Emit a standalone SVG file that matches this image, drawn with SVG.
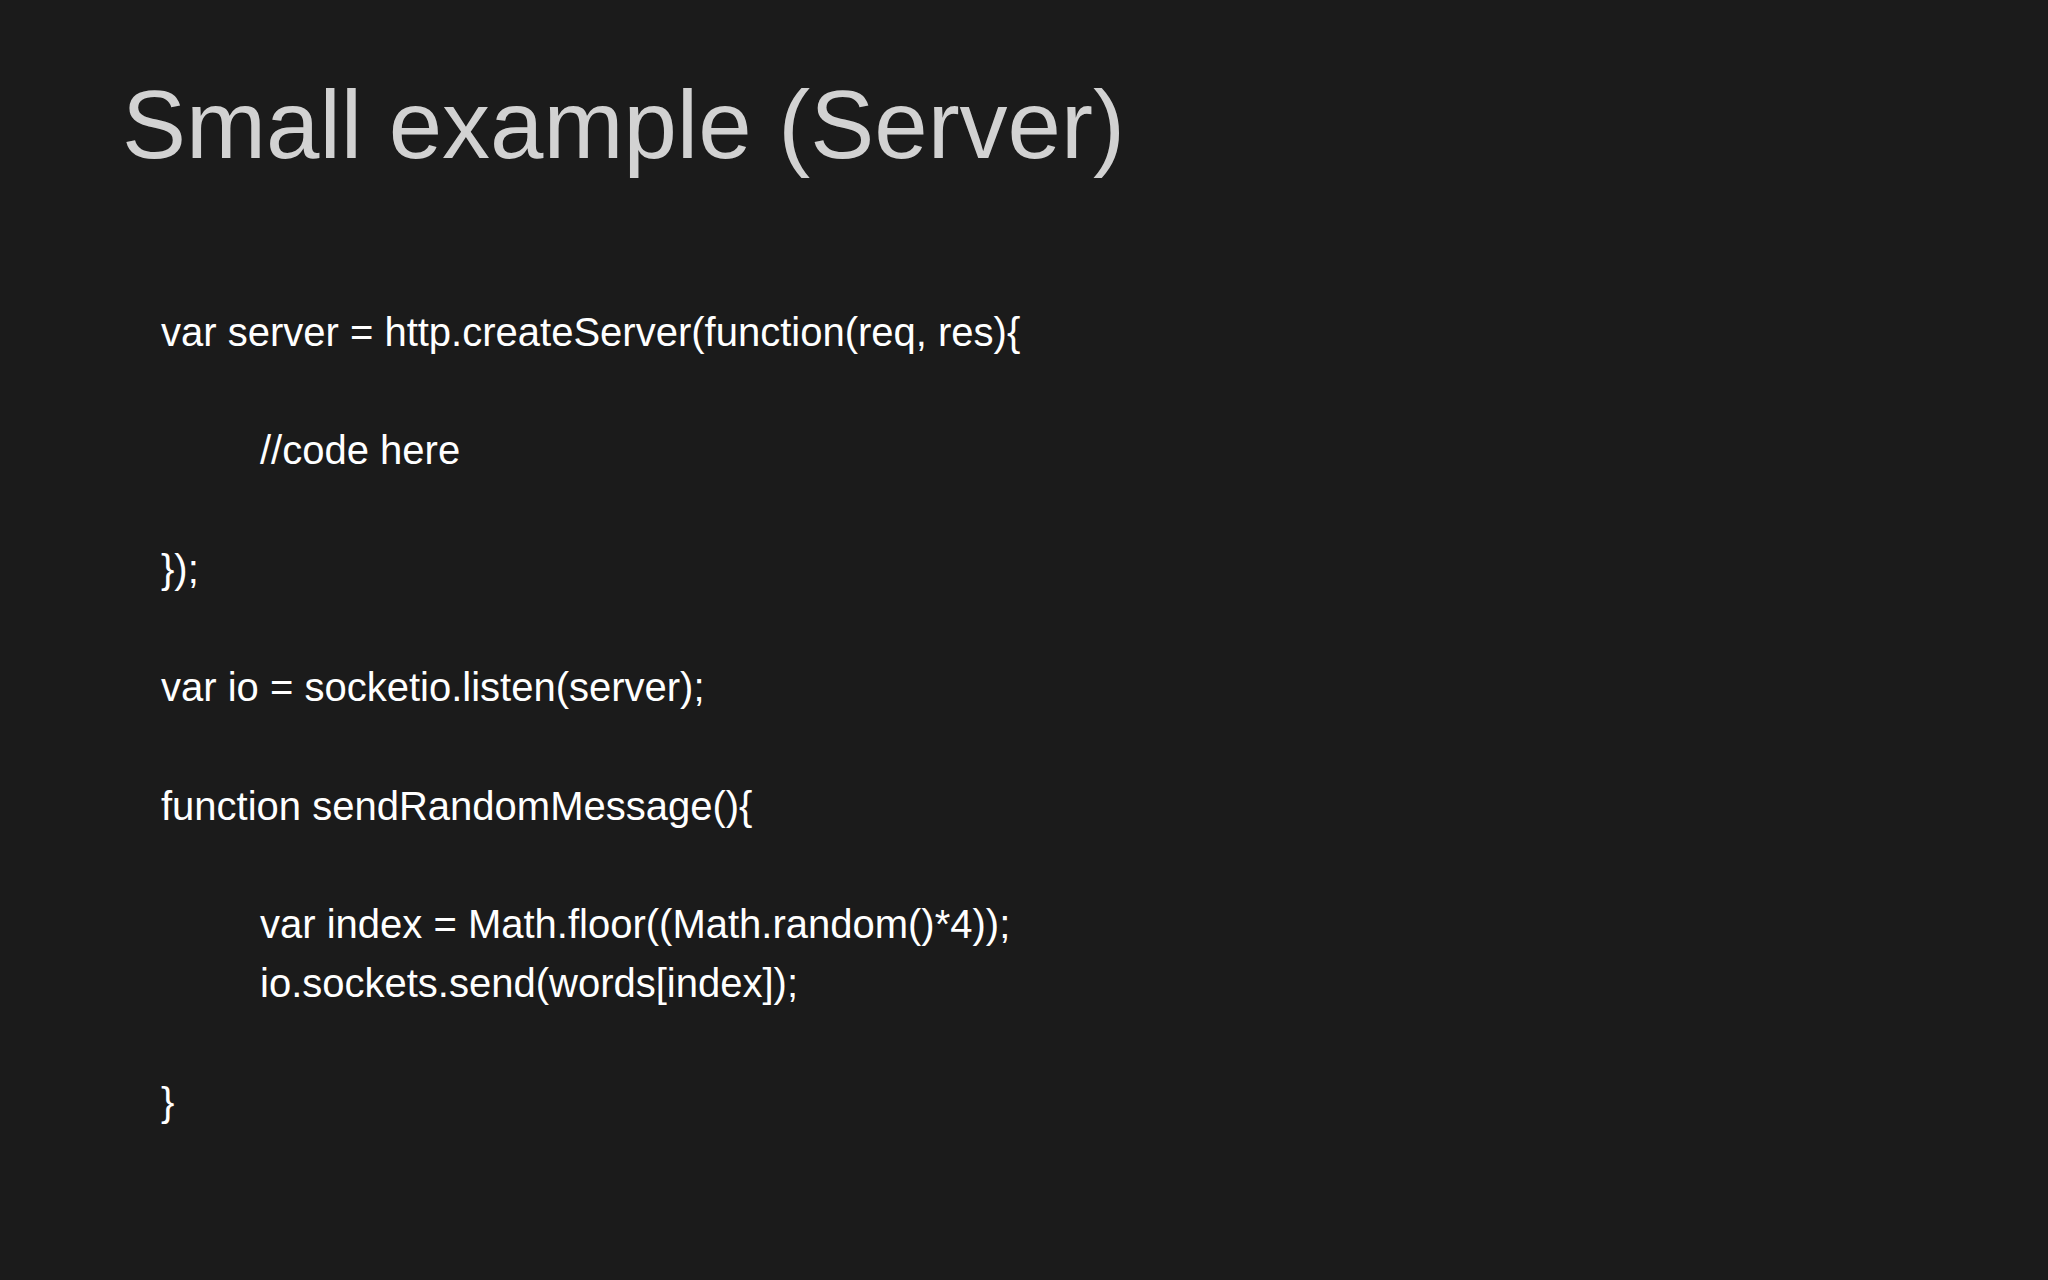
<svg xmlns="http://www.w3.org/2000/svg" width="2048" height="1280" viewBox="0 0 2048 1280">
<style>
.t{font-family:"Liberation Sans",Arial,sans-serif;font-size:96px;fill:#d2d2d2}
.c{font-family:"Liberation Sans",Arial,sans-serif;font-size:40px;fill:#ffffff}
</style>
<rect width="2048" height="1280" fill="#1b1b1b"/>
<g id="title"><text class="t" x="122" y="158">Small example (Server)</text></g>
<g id="code">
<text class="c" x="161" y="346">var server = http.createServer(function(req, res){</text>
<text class="c" x="260" y="464">//code here</text>
<text class="c" x="161" y="583">});</text>
<text class="c" x="161" y="701">var io = socketio.listen(server);</text>
<text class="c" x="161" y="820">function sendRandomMessage(){</text>
<text class="c" x="260" y="938">var index = Math.floor((Math.random()*4));</text>
<text class="c" x="260" y="997">io.sockets.send(words[index]);</text>
<text class="c" x="161" y="1116">}</text>
</g>
</svg>
